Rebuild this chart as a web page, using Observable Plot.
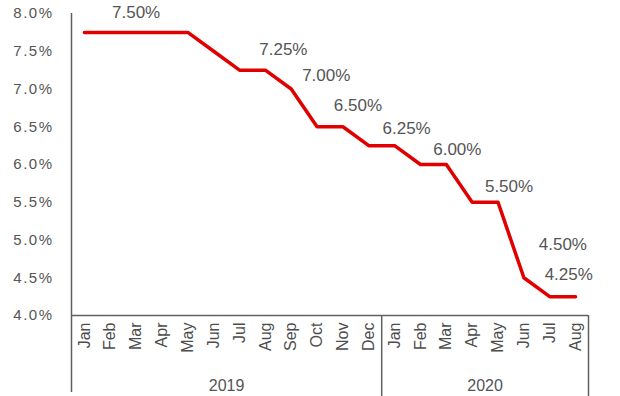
<!DOCTYPE html>
<html><head><meta charset="utf-8">
<script src="https://cdn.jsdelivr.net/npm/d3@7"></script>
<script src="https://cdn.jsdelivr.net/npm/@observablehq/plot@0.6"></script>
<style>
body{margin:0;background:#fff}
g[aria-label="y-axis tick label"] text{letter-spacing:1.5px}
g[aria-label="rate-label"] text{letter-spacing:1px}
g[aria-label="year-label"] text{letter-spacing:1.6px}
</style>
</head><body><div id="chart"></div>
<script>
const months = ["Jan","Feb","Mar","Apr","May","Jun","Jul","Aug","Sep","Oct","Nov","Dec",
                "Jan","Feb","Mar","Apr","May","Jun","Jul","Aug"];
const rates = [7.75,7.75,7.75,7.75,7.75,7.5,7.25,7.25,7.0,6.5,6.5,6.25,
               6.25,6.0,6.0,5.5,5.5,4.5,4.25,4.25];
const years = ["2019","2020"];
const monthsPerYear = [12, 8];
const yTicks = [4.0,4.5,5.0,5.5,6.0,6.5,7.0,7.5,8.0];
const labelTexts = ["7.50%","7.25%","7.00%","6.50%","6.25%","6.00%","5.50%","4.50%","4.25%"];
const labelMonth = [2,7,8,10,12,14,16,17,18];

// label placement offsets (px) relative to the anchoring data point
const labelOffsets = [[0,-20],[18,-21],[35,-13],[15,-21],[12,-17],[11,-15],[11,-16],[39,-33],[19,-22]];

const data = months.map((m, i) => ({i, m, rate: rates[i]}));
let start = 0;
const yearData = years.map((y, k) => {
  const s = start, e = start + monthsPerYear[k] - 1;
  start += monthsPerYear[k];
  return {year: y, mid: (s + e) / 2, end: e + 0.5};
});
const labelData = labelTexts.map((t, k) => ({text: t, i: labelMonth[k], rate: rates[labelMonth[k]]}));

const axisColor = "#606060";
const textColor = "#555";

const chart = Plot.plot({
  width: 620,
  height: 396,
  marginLeft: 71,
  marginRight: 32,
  marginTop: 13,
  marginBottom: 81,
  style: {fontFamily: "'Liberation Sans', Arial, sans-serif", color: textColor, background: "#fff"},
  x: {type: "linear", domain: [-0.5, months.length - 0.5], label: null},
  y: {domain: [4, 8], label: null},
  marks: [
    Plot.ruleY([4], {stroke: axisColor, strokeWidth: 1.5}),
    Plot.ruleX([-0.5], {stroke: axisColor, strokeWidth: 1.5, insetBottom: -77}),
    Plot.ruleX(yearData, {x: "end", y1: 4, y2: 4, insetBottom: -81, stroke: axisColor, strokeWidth: 1.5}),
    Plot.axisY({ticks: yTicks, tickFormat: d => d.toFixed(1) + "%", tickSize: 0, tickPadding: 18, fontSize: 15, fill: textColor, label: null}),
    Plot.axisX({ticks: d3.range(months.length), tickFormat: i => months[i], tickRotate: -90, tickSize: 0, tickPadding: 7, fontSize: 16, fill: "#4d4d4d", label: null}),
    Plot.text(yearData, {x: "mid", y: () => 4, text: "year", dy: 70, fontSize: 16, fill: textColor, ariaLabel: "year-label"}),
    Plot.line(data, {x: "i", y: "rate", stroke: "#e00000", strokeWidth: 3.5}),
    ...labelData.map((d, k) => Plot.text([d], {x: "i", y: "rate", text: "text", dx: labelOffsets[k][0], dy: labelOffsets[k][1], fontSize: 17, fill: textColor, ariaLabel: "rate-label"}))
  ]
});
document.getElementById("chart").appendChild(chart);
</script>
</body></html>
